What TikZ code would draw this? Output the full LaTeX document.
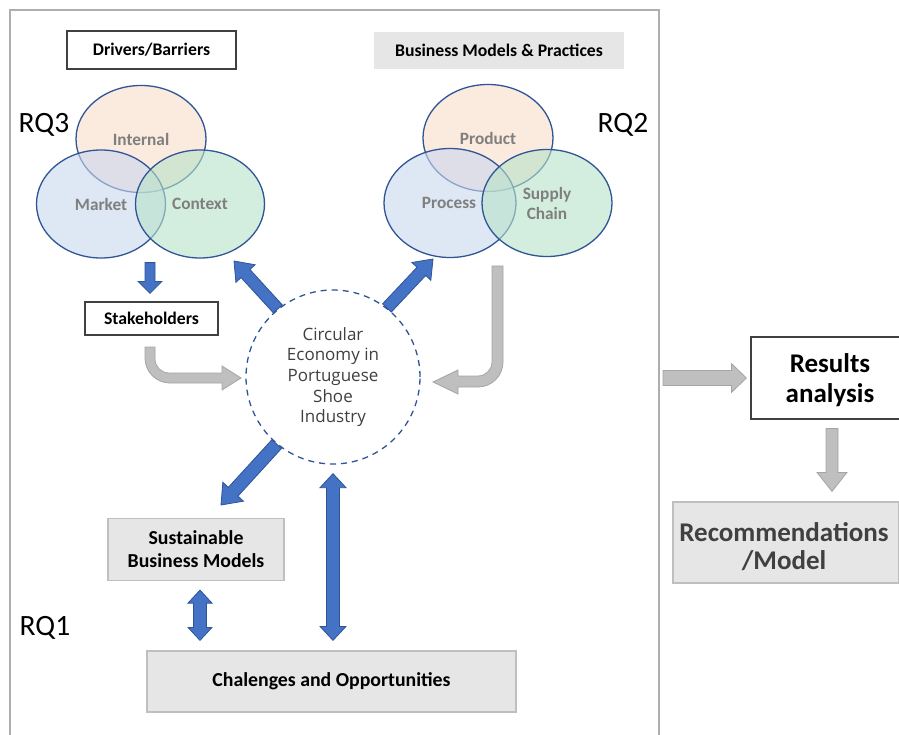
\documentclass[tikz,border=0pt]{standalone}
\usepackage{fontspec}
\setmainfont{Carlito}
\newfontfamily\cefont{Open Sans}
\usetikzlibrary{calc,shapes.geometric}

\definecolor{bluefill}{HTML}{4472C4}
\definecolor{blueedge}{HTML}{2F5597}
\definecolor{grayfill}{HTML}{BFBFBF}
\definecolor{grayedge}{HTML}{A5A5A5}
\definecolor{boxgray}{HTML}{E7E6E6}
\definecolor{boxedge}{HTML}{BFBFBF}
\definecolor{framegray}{HTML}{AFADAD}
\definecolor{darkedge}{HTML}{404040}
\definecolor{labelgray}{HTML}{7F7F7F}
\definecolor{cetext}{HTML}{404040}
\definecolor{peach}{HTML}{F9DCC9}
\definecolor{lightblue}{HTML}{C9D7EE}
\definecolor{mint}{HTML}{B7E3C8}

% single-headed block arrow: style, tail, tip, half shaft, half head, head length
\newcommand{\blockarrow}[6]{%
  \coordinate (hb) at ($(#3)!#6!(#2)$);
  \draw[#1] ($(#2)!#4!90:(#3)$) -- ($(hb)!#4!90:(#3)$) -- ($(hb)!#5!90:(#3)$)
    -- (#3) -- ($(hb)!#5!-90:(#3)$) -- ($(hb)!#4!-90:(#3)$)
    -- ($(#2)!#4!-90:(#3)$) -- cycle;}
% double-headed block arrow
\newcommand{\dblarrow}[6]{%
  \coordinate (hb) at ($(#3)!#6!(#2)$);
  \coordinate (ha) at ($(#2)!#6!(#3)$);
  \draw[#1] (#2) -- ($(ha)!#5!90:(#3)$) -- ($(ha)!#4!90:(#3)$)
    -- ($(hb)!#4!90:(#3)$) -- ($(hb)!#5!90:(#3)$) -- (#3)
    -- ($(hb)!#5!-90:(#3)$) -- ($(hb)!#4!-90:(#3)$)
    -- ($(ha)!#4!-90:(#3)$) -- ($(ha)!#5!-90:(#3)$) -- cycle;}

\tikzset{
  bluearrow/.style={fill=bluefill, draw=blueedge, line width=0.8pt, line join=miter},
  grayarrow/.style={fill=grayfill, draw=grayedge, line width=0.8pt, line join=miter},
  whitebox/.style={draw=darkedge, fill=white, line width=1.2pt, inner sep=0pt,
    font=\bfseries\fontsize{17.7}{21}\selectfont},
  graybox/.style={draw=boxedge, fill=boxgray, line width=1.2pt, inner sep=0pt,
    font=\bfseries\fontsize{19.8}{23}\selectfont, align=center},
  venn/.style={ellipse, draw=blueedge, line width=1.3pt, inner sep=0pt, fill opacity=0.6},
  vennlabel/.style={text=labelgray, font=\bfseries\fontsize{17.3}{20}\selectfont, align=center},
  rqlabel/.style={font=\fontsize{29.5}{32}\selectfont, inner sep=0pt},
  biglabel/.style={align=center, inner sep=0pt, font=\bfseries\fontsize{27}{30}\selectfont},
}

\begin{document}
\begin{tikzpicture}[x=1pt, y=-1pt]
\useasboundingbox (0,0) rectangle (899,735);
\clip (0,0) rectangle (899,735);
\fill[white] (0,0) rectangle (899,735);

% outer frame of the study
\draw[framegray, line width=1.6pt] (10,745) -- (10,10) -- (659,10) -- (659,745);

% header boxes
\node[whitebox, minimum width=169pt, minimum height=38pt] (db) at (151.5,50) {Drivers/Barriers};
\node[fill=boxgray, inner sep=0pt, minimum width=250pt, minimum height=37pt,
  font=\bfseries\fontsize{17.7}{21}\selectfont] (bmp) at (499,50.5) {Business Models \& Practices};

% RQ3 Venn diagram
\node[venn, fill=peach, minimum width=130pt, minimum height=107pt] (int) at (141,139) {};
\node[venn, fill=lightblue, minimum width=129pt, minimum height=108pt] (mkt) at (101,204) {};
\node[venn, fill=mint, minimum width=129pt, minimum height=108pt] (ctx) at (200,204) {};
\node[vennlabel] at (int.center) {Internal};
\node[vennlabel] at (mkt.center) {Market};
\node[vennlabel] at (ctx.center) {Context};

% RQ2 Venn diagram
\node[venn, fill=peach, minimum width=130pt, minimum height=107pt] (prd) at (488,138) {};
\node[venn, fill=lightblue, minimum width=132pt, minimum height=109pt] (prc) at (450,203) {};
\node[venn, fill=mint, minimum width=130pt, minimum height=107pt] (sup) at (547,203) {};
\node[vennlabel] at (prd.center) {Product};
\node[vennlabel] at ([xshift=-1pt]prc.center) {Process};
\node[vennlabel] at (sup.center) {Supply\\Chain};

% research question labels
\node[rqlabel] (rq3) at (44,125) {RQ3};
\node[rqlabel] (rq2) at (623,125) {RQ2};
\node[rqlabel] (rq1) at (45,628) {RQ1};

% stakeholders
\node[whitebox, minimum width=133pt, minimum height=33pt] (sh) at (151.5,318.5) {Stakeholders};

% central theme
\node[circle, draw=blueedge, dash pattern=on 6pt off 5pt, line width=1.3pt,
  minimum size=174pt, inner sep=0pt, text=cetext, align=center,
  font=\cefont\fontsize{17}{20.7}\selectfont] (ce) at (333,377)
  {Circular\\Economy in\\Portuguese\\Shoe\\Industry};

% lower boxes
\node[graybox, minimum width=176pt, minimum height=62pt] (sbm) at (196,549.5) {Sustainable\\Business Models};
\node[graybox, minimum width=369pt, minimum height=61pt] (ch) at (331.5,681.5) {Chalenges and Opportunities};

% outcome boxes
\node[draw=darkedge, fill=white, line width=1.2pt, minimum width=158pt, minimum height=82pt] (ra) at (830,378) {};
\node[biglabel] at ($(ra.center)+(0,2)$) {Results\\analysis};
\node[draw=boxedge, fill=boxgray, line width=1.2pt, minimum width=226pt, minimum height=81pt] (rec) at (786,542.5) {};
\node[biglabel, text=darkedge, font=\bfseries\fontsize{27}{28.5}\selectfont]
  at ($(rec.center)+(-2,4)$) {Recommendations\\/Model};

% blue connectors
\coordinate (m1) at ($(mkt.south)+(49,4)$);
\coordinate (m2) at ($(sh.north)+(-1.5,-8)$);
\blockarrow{bluearrow}{m1}{m2}{5pt}{12pt}{12pt}

\coordinate (c1) at (ce.129);
\coordinate (c2) at (234,261);
\blockarrow{bluearrow}{c1}{c2}{6pt}{13pt}{17pt}

\coordinate (p1) at (ce.52);
\coordinate (p2) at (433,259);
\blockarrow{bluearrow}{p1}{p2}{6pt}{13pt}{17pt}

\coordinate (s1) at (ce.230);
\coordinate (s2) at (221,505);
\blockarrow{bluearrow}{s1}{s2}{6.5pt}{14pt}{18pt}

\coordinate (v1) at ($(ce.south)+(0,9)$);
\coordinate (v2) at ($(ch.north)+(1.5,-10)$);
\dblarrow{bluearrow}{v1}{v2}{6.5pt}{13pt}{14pt}

\coordinate (b1) at ($(sbm.south)+(4,9)$);
\coordinate (b2) at ($(ch.north)+(-131.5,-10)$);
\dblarrow{bluearrow}{b1}{b2}{6.5pt}{12pt}{13pt}

% gray bent connector from stakeholders into the centre
\draw[grayarrow] (145,347) -- (155,347) -- (155,359) .. controls (155,366.7) and (161.3,373) .. (169,373)
  -- (222,373) -- (222,366) -- (241,378) -- (222,390) -- (222,383) -- (170,383)
  .. controls (156.2,383) and (145,371.8) .. (145,358) -- cycle;

% gray bent connector from business models into the centre
\draw[grayarrow] (492,266) -- (503,266) -- (503,362) .. controls (503,375.8) and (491.8,387) .. (478,387)
  -- (458,387) -- (458,394) -- (433,382) -- (458,370) -- (458,376) -- (478,376)
  .. controls (485.7,376) and (492,369.7) .. (492,362) -- cycle;

% gray connectors toward the outcomes
\coordinate (g1) at (663,378);
\coordinate (g2) at ($(ra.west)+(-4,0)$);
\blockarrow{grayarrow}{g1}{g2}{7.5pt}{14.5pt}{15pt}

\coordinate (d1) at ($(ra.south)+(2,9)$);
\coordinate (d2) at ($(rec.north)+(46,-10)$);
\blockarrow{grayarrow}{d1}{d2}{6pt}{15pt}{19pt}
\end{tikzpicture}
\end{document}
